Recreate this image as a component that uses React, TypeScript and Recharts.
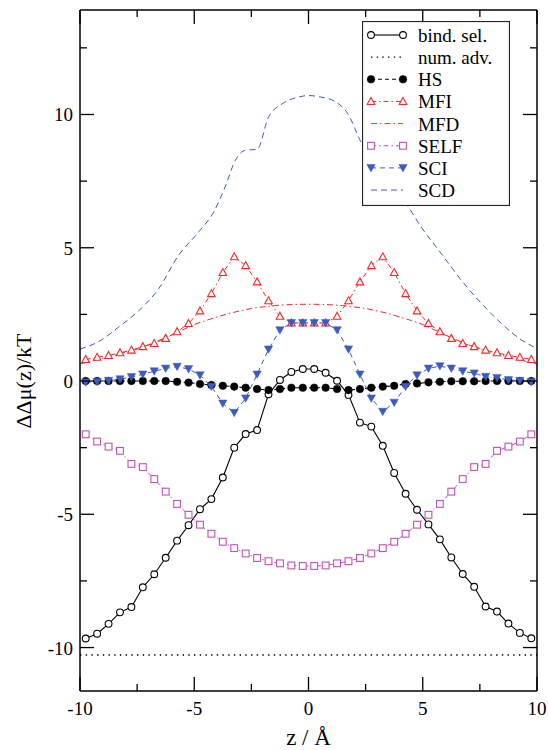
import React from 'react';
import { LineChart, Line, XAxis, YAxis, Legend } from 'recharts';

// ---------- data ----------
const zGrid = [-9.75, -9.25, -8.75, -8.25, -7.75, -7.25, -6.75, -6.25, -5.75, -5.25, -4.75, -4.25, -3.75, -3.25, -2.75, -2.25, -1.75, -1.25, -0.75, -0.25,
  0.25, 0.75, 1.25, 1.75, 2.25, 2.75, 3.25, 3.75, 4.25, 4.75, 5.25, 5.75, 6.25, 6.75, 7.25, 7.75, 8.25, 8.75, 9.25, 9.75];

const bindSel = [-9.66, -9.48, -9.11, -8.68, -8.48, -7.74, -7.25, -6.63, -5.99, -5.41, -4.81, -4.43, -3.62, -2.50, -1.99, -1.84, -0.50, 0.04, 0.34, 0.45,
  0.45, 0.31, 0.01, -0.52, -1.56, -1.71, -2.43, -3.45, -4.23, -4.83, -5.38, -5.94, -6.62, -7.24, -7.72, -8.46, -8.65, -9.10, -9.45, -9.65];

const hs = [0, 0, 0, 0, 0, 0, 0, 0, -0.03, -0.06, -0.11, -0.15, -0.18, -0.21, -0.25, -0.30, -0.34, -0.30, -0.25, -0.25,
  -0.25, -0.25, -0.30, -0.34, -0.30, -0.25, -0.21, -0.18, -0.11, -0.09, -0.05, -0.03, -0.01, -0.01, -0.01, 0, 0, 0, 0, 0];

const mfi = [0.81, 0.89, 0.96, 1.06, 1.16, 1.29, 1.41, 1.60, 1.85, 2.16, 2.63, 3.28, 4.07, 4.66, 4.33, 3.72, 3.01, 2.43, 2.18, 2.18,
  2.18, 2.18, 2.43, 3.01, 3.72, 4.33, 4.66, 4.07, 3.28, 2.63, 2.16, 1.85, 1.60, 1.41, 1.29, 1.16, 1.06, 0.96, 0.89, 0.81];

const self = [-2.00, -2.27, -2.46, -2.62, -3.11, -3.23, -3.68, -4.15, -4.61, -5.02, -5.39, -5.73, -6.03, -6.27, -6.47, -6.64, -6.76, -6.84, -6.92, -6.94,
  -6.94, -6.92, -6.84, -6.76, -6.64, -6.47, -6.27, -6.03, -5.73, -5.39, -5.02, -4.61, -4.15, -3.68, -3.23, -3.11, -2.62, -2.46, -2.27, -2.00];

const sci = [-0.05, -0.03, 0.01, 0.07, 0.15, 0.25, 0.37, 0.47, 0.54, 0.45, 0.22, -0.21, -0.84, -1.19, -0.65, 0.25, 1.19, 1.91, 2.18, 2.18,
  2.18, 2.18, 1.91, 1.19, 0.25, -0.65, -1.15, -0.81, -0.21, 0.22, 0.47, 0.56, 0.47, 0.37, 0.29, 0.16, 0.12, 0.04, 0.01, -0.03];

const mfdZ = [-10, -9.5, -9, -8.5, -8, -7.5, -7, -6.5, -6, -5.5, -5, -4.5, -4, -3.5, -3, -2.5, -2, -1.5, -1, -0.5, 0,
  0.5, 1, 1.5, 2, 2.5, 3, 3.5, 4, 4.5, 5, 5.5, 6, 6.5, 7, 7.5, 8, 8.5, 9, 9.5, 10];
const mfd = [0.64, 0.74, 0.85, 0.96, 1.08, 1.20, 1.36, 1.54, 1.72, 1.92, 2.12, 2.27, 2.40, 2.53, 2.63, 2.72, 2.78, 2.83, 2.86, 2.875, 2.88,
  2.875, 2.86, 2.83, 2.78, 2.72, 2.63, 2.53, 2.40, 2.27, 2.12, 1.92, 1.72, 1.54, 1.36, 1.20, 1.08, 0.96, 0.85, 0.74, 0.64];

const scdZ = [-10, -9.2, -8.3, -7.4, -6.55, -5.7, -4.8, -4.15, -3.65, -3.2, -2.75, -2.25, -1.75, -1.15, -0.45, 0,
  0.5, 1.13, 1.72, 2.3, 2.8, 3.3, 3.8, 4.35, 4.93, 5.81, 6.69, 7.57, 8.44, 9.32, 10];
const scd = [1.20, 1.47, 2.03, 2.66, 3.47, 4.70, 5.60, 6.34, 7.28, 8.28, 8.66, 8.69, 9.90, 10.40, 10.65, 10.71,
  10.66, 10.50, 10.03, 8.96, 8.30, 7.70, 7.10, 6.55, 5.78, 4.78, 3.78, 2.91, 2.16, 1.54, 1.22];

const numAdvZ = [-10, 10];
const numAdv = [-10.28, -10.28];

const xTicks = [-10, -7.5, -5, -2.5, 0, 2.5, 5, 7.5, 10];
const yTicks = [-10, -7.5, -5, -2.5, 0, 2.5, 5, 7.5, 10, 12.5];
const xDomain = [-10, 10];
const yDomain = [-11.63, 13.92];

const toPts = (xs: number[], ys: number[]) => xs.map((x, i) => ({ x, y: ys[i] }));

// ---------- styles ----------
const FONT = "'Liberation Serif', 'DejaVu Serif', 'Times New Roman', serif";
const TXT = { fontFamily: FONT } as React.CSSProperties;
const RED = '#f42a2a';
const BLUE = '#3d5cbd';
const MAGENTA = '#c252b4';
const BLACK = '#000000';

type Kind = 'openCircle' | 'filledCircle' | 'openTriUp' | 'filledTriDown' | 'openSquare' | 'none';

const Marker = ({ kind, color, cx, cy }: { kind: Kind; color: string; cx: number; cy: number }) => {
  if (cx == null || cy == null || isNaN(cx) || isNaN(cy)) return <g />;
  switch (kind) {
    case 'openCircle':
      return <circle cx={cx} cy={cy} r={3.4} fill="#fff" stroke={color} strokeWidth={1.1} />;
    case 'filledCircle':
      return <circle cx={cx} cy={cy} r={3.8} fill={color} stroke={color} strokeWidth={0.5} />;
    case 'openTriUp':
      return <polygon points={`${cx},${cy - 4} ${cx + 3.8},${cy + 3} ${cx - 3.8},${cy + 3}`} fill="#fff" stroke={color} strokeWidth={1.1} />;
    case 'filledTriDown':
      return <polygon points={`${cx - 4.2},${cy - 3.4} ${cx + 4.2},${cy - 3.4} ${cx},${cy + 4}`} fill={color} stroke={color} strokeWidth={0.5} />;
    case 'openSquare':
      return <rect x={cx - 3.4} y={cy - 3.4} width={6.8} height={6.8} fill="#fff" stroke={color} strokeWidth={1.1} />;
    default:
      return <g />;
  }
};

const makeDot = (kind: Kind, color: string) => (props: any) => (
  <Marker key={`d-${props.index}`} kind={kind} color={color} cx={props.cx} cy={props.cy} />
);

const series = [
  { name: 'bind. sel.', data: toPts(zGrid, bindSel), color: BLACK, dash: undefined as string | undefined, marker: 'openCircle' as Kind, width: 1.1, curve: 'linear' },
  { name: 'num. adv.', data: toPts(numAdvZ, numAdv), color: BLACK, dash: '1.4 4.3', marker: 'none' as Kind, width: 1.4, curve: 'linear' },
  { name: 'HS', data: toPts(zGrid, hs), color: BLACK, dash: '4 3', marker: 'filledCircle' as Kind, width: 1.1, curve: 'linear' },
  { name: 'MFI', data: toPts(zGrid, mfi), color: RED, dash: '5 3 1.5 3', marker: 'openTriUp' as Kind, width: 1, curve: 'linear' },
  { name: 'MFD', data: toPts(mfdZ, mfd), color: RED, dash: '6 3 1.5 3', marker: 'none' as Kind, width: 1, curve: 'monotone' },
  { name: 'SELF', data: toPts(zGrid, self), color: MAGENTA, dash: '5 3 1.5 3', marker: 'openSquare' as Kind, width: 1, curve: 'linear' },
  { name: 'SCI', data: toPts(zGrid, sci), color: BLUE, dash: '5 4', marker: 'filledTriDown' as Kind, width: 1, curve: 'linear' },
  { name: 'SCD', data: toPts(scdZ, scd), color: BLUE, dash: '6 4', marker: 'none' as Kind, width: 1, curve: 'monotone' },
];

const isMajor = (v: number) => Math.abs(v % 5) < 1e-9;
const MAJOR = 14;
const MINOR = 7;
const TICK_W = 1.3;

const BottomTick = (p: any) => {
  const v = p.payload.value;
  const len = isMajor(v) ? MAJOR : MINOR;
  return (
    <g>
      <line x1={p.x} y1={p.y} x2={p.x} y2={p.y - len} stroke={BLACK} strokeWidth={TICK_W} />
      {isMajor(v) && (
        <text x={p.x} y={p.y + 24} textAnchor="middle" fontSize={19} style={TXT} fill={BLACK}>{String(v)}</text>
      )}
    </g>
  );
};
const TopTick = (p: any) => {
  const v = p.payload.value;
  const len = isMajor(v) ? MAJOR : MINOR;
  return <line x1={p.x} y1={p.y} x2={p.x} y2={p.y + len} stroke={BLACK} strokeWidth={TICK_W} />;
};
const LeftTick = (p: any) => {
  const v = p.payload.value;
  const len = isMajor(v) ? MAJOR : MINOR;
  return (
    <g>
      <line x1={p.x} y1={p.y} x2={p.x + len} y2={p.y} stroke={BLACK} strokeWidth={TICK_W} />
      {isMajor(v) && (
        <text x={p.x - 7} y={p.y + 7} textAnchor="end" fontSize={19} style={TXT} fill={BLACK}>{String(v)}</text>
      )}
    </g>
  );
};
const RightTick = (p: any) => {
  const v = p.payload.value;
  const len = isMajor(v) ? MAJOR : MINOR;
  return <line x1={p.x} y1={p.y} x2={p.x - len} y2={p.y} stroke={BLACK} strokeWidth={TICK_W} />;
};

const LegendBox = () => {
  const rowY = (i: number) => 14 + i * 22.15;
  return (
    <svg width={148} height={185} style={{ display: 'block' }}>
      <rect x={0.5} y={0.5} width={147} height={184} fill="#fff" stroke="#222" strokeWidth={1.2} />
      {series.map((s, i) => {
        const y = rowY(i);
        return (
          <g key={s.name}>
            <line x1={9} y1={y} x2={41} y2={y} stroke={s.color} strokeWidth={s.width} strokeDasharray={s.dash} />
            {s.marker !== 'none' && <Marker kind={s.marker} color={s.color} cx={9} cy={y} />}
            {s.marker !== 'none' && <Marker kind={s.marker} color={s.color} cx={41} cy={y} />}
            <text x={56} y={y + 7} fontSize={19} style={TXT} fill={BLACK}>{s.name}</text>
          </g>
        );
      })}
    </svg>
  );
};

export default function App() {
  return (
    <div style={{ position: 'absolute', left: 0, top: 0, width: 548, height: 750, background: '#fff', fontFamily: FONT }}>
      <LineChart width={548} height={750} margin={{ top: 2, right: 3, bottom: 1, left: 20 }} style={TXT}>
        <XAxis
          xAxisId="bottom"
          type="number"
          dataKey="x"
          domain={xDomain}
          ticks={xTicks}
          interval={0}
          allowDataOverflow
          orientation="bottom"
          height={58}
          tickSize={0}
          tickMargin={0}
          tickLine={false}
          axisLine={{ stroke: BLACK, strokeWidth: 1.5 }}
          tick={BottomTick}
          label={{
            value: 'z / Å',
            content: (lp: any) => (
              <text x={lp.viewBox.x + lp.viewBox.width / 2} y={lp.viewBox.y + 54} textAnchor="middle" fontSize={23} style={TXT} fill={BLACK}>z / Å</text>
            ),
          }}
        />
        <XAxis
          xAxisId="top"
          type="number"
          dataKey="x"
          domain={xDomain}
          ticks={xTicks}
          interval={0}
          allowDataOverflow
          orientation="top"
          height={8}
          tickSize={0}
          tickMargin={0}
          tickLine={false}
          axisLine={{ stroke: BLACK, strokeWidth: 1.5 }}
          tick={TopTick}
        />
        <YAxis
          yAxisId="left"
          type="number"
          domain={yDomain}
          ticks={yTicks}
          interval={0}
          allowDataOverflow
          orientation="left"
          width={60}
          tickSize={0}
          tickMargin={0}
          tickLine={false}
          axisLine={{ stroke: BLACK, strokeWidth: 1.5 }}
          tick={LeftTick}
          label={{
            value: 'ΔΔμ(z)/kT',
            content: (lp: any) => {
              const cx = lp.viewBox.x + 3;
              const cy = lp.viewBox.y + 371;
              return (
                <text x={cx} y={cy} transform={`rotate(-90, ${cx}, ${cy})`} textAnchor="middle" dominantBaseline="central" fontSize={22} style={TXT} fill={BLACK}>ΔΔμ(z)/kT</text>
              );
            },
          }}
        />
        <YAxis
          yAxisId="right"
          type="number"
          domain={yDomain}
          ticks={yTicks}
          interval={0}
          allowDataOverflow
          orientation="right"
          width={8}
          tickSize={0}
          tickMargin={0}
          tickLine={false}
          axisLine={{ stroke: BLACK, strokeWidth: 1.5 }}
          tick={RightTick}
        />
        {series.map((s) => (
          <Line
            key={s.name}
            name={s.name}
            xAxisId="bottom"
            yAxisId="left"
            data={s.data}
            dataKey="y"
            type={s.curve as any}
            stroke={s.color}
            strokeWidth={s.width}
            strokeDasharray={s.dash}
            dot={s.marker === 'none' ? false : makeDot(s.marker, s.color)}
            activeDot={false}
            isAnimationActive={false}
            legendType="line"
          />
        ))}
        <Legend
          layout="vertical"
          align="center"
          verticalAlign="middle"
          content={() => <LegendBox />}
          wrapperStyle={{ position: 'absolute', left: 362, top: 21, width: 148, height: 185 }}
        />
      </LineChart>
    </div>
  );
}
